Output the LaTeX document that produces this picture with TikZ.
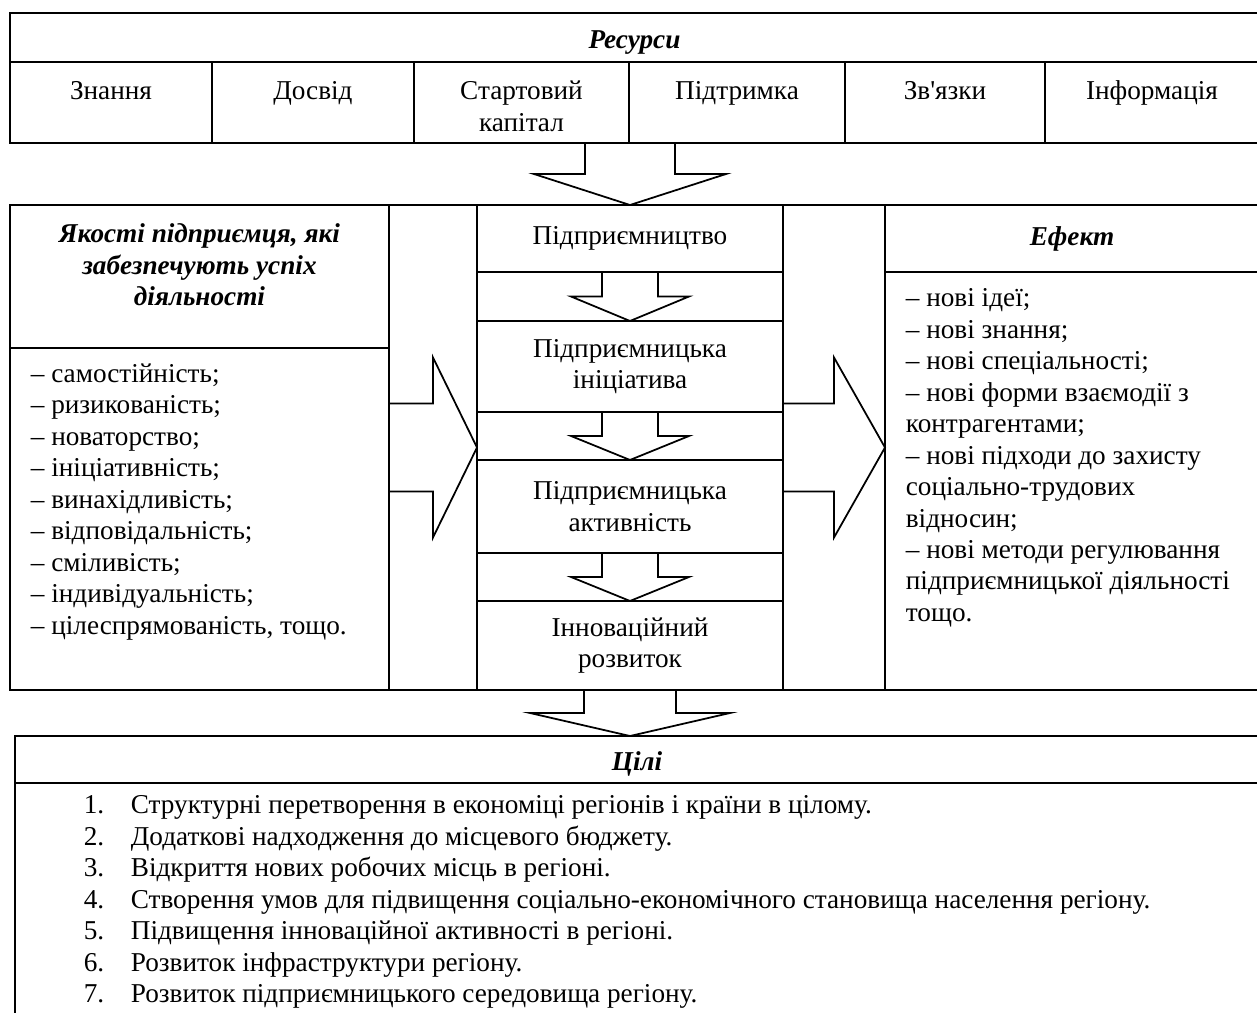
\documentclass[tikz,border=0pt]{standalone}
\usepackage{fontspec}
\setmainfont{Liberation Serif}
\usetikzlibrary{calc,positioning}

\newcommand{\fs}{\fontsize{15.5pt}{17.9pt}\selectfont}
\newcommand{\itm}[1]{\makebox[0.94cm][l]{#1.}}

% block arrow pointing down: from, tip, stem half width, head half width
\newcommand{\blockdown}[4]{%
  \coordinate (bs) at (#1 -| #2);
  \coordinate (bm) at ($(bs)!0.5!(#2)$);
  \draw[blk] ($(bs)+(-#3,0)$) -- ($(bm)+(-#3,0)$) -- ($(bm)+(-#4,0)$) -- (#2)
    -- ($(bm)+(#4,0)$) -- ($(bm)+(#3,0)$) -- ($(bs)+(#3,0)$);}
% block arrow pointing right
\newcommand{\blockright}[4]{%
  \coordinate (bs) at (#1 |- #2);
  \coordinate (bm) at ($(bs)!0.5!(#2)$);
  \draw[blk] ($(bs)+(0,-#3)$) -- ($(bm)+(0,-#3)$) -- ($(bm)+(0,-#4)$) -- (#2)
    -- ($(bm)+(0,#4)$) -- ($(bm)+(0,#3)$) -- ($(bs)+(0,#3)$);}

\begin{document}
\begin{tikzpicture}[x=0.02cm, y=-0.02cm, line width=1pt,
    cell/.style 2 args={draw, minimum width=#1*0.02cm, minimum height=#2*0.02cm,
      anchor=north west, inner sep=0pt, outer sep=0pt, align=center, font=\fs},
    txt/.style={inner sep=0pt, align=center, font=\fs},
    hd/.style={font=\fs\bfseries\itshape},
    low/.style={text height=16pt, text depth=3.5pt},
    blk/.style={draw, line width=1pt}]

    \useasboundingbox (0,0) rectangle (1257,1012);

    % resources
    \node[cell={1249}{49}, hd, low] (res) at (10,13) {Ресурси};
    \node[cell={202}{81}, below right=0pt of res.south west] (znan) {};
    \node[cell={202}{81}, right=0pt of znan] (dosv) {};
    \node[cell={215}{81}, right=0pt of dosv] (kap) {};
    \node[cell={216}{81}, right=0pt of kap] (pidt) {};
    \node[cell={200}{81}, right=0pt of pidt] (zv) {};
    \node[cell={214}{81}, right=0pt of zv] (inf) {};

    \node[txt, below=0.3cm of znan.north] (tznan) {\strut Знання};
    \node[txt, below=0.3cm of dosv.north] (tdosv) {\strut Досвід};
    \node[txt, below=0.3cm of kap.north] (tkap) {\strut Стартовий\\капітал};
    \node[txt, below=0.3cm of pidt.north] (tpidt) {\strut Підтримка};
    \node[txt, below=0.3cm of zv.north] (tzv) {\strut Зв\textquotesingle язки};
    \node[txt, below=0.3cm of inf.north] (tinf) {\strut Інформація};

    % middle band
    \node[cell={379}{143}] (qhead) at (10,205) {};
    \node[cell={379}{342}, below=0pt of qhead] (qlist) {};
    \node[cell={88}{485}, below right=0pt of qhead.north east] (gapL) {};
    \node[cell={306}{485}, below right=0pt of gapL.north east] (midcol) {};
    \node[cell={102}{485}, below right=0pt of midcol.north east] (gapR) {};
    \node[cell={374}{67}, below right=0pt of gapR.north east, hd] (ehead) {Ефект};
    \node[cell={374}{418}, below=0pt of ehead] (elist) {};

    \node[txt, hd, below=0.36cm of qhead.north] (tqual)
        {Якості підприємця, які\\забезпечують успіх\\діяльності};
    \node[txt, align=left, below right=0.3cm and 0.4cm of qlist.north west] (tqlist)
        {– самостійність;\\– ризикованість;\\– новаторство;\\– ініціативність;\\
         – винахідливість;\\– відповідальність;\\– сміливість;\\– індивідуальність;\\
         – цілеспрямованість, тощо.};
    \node[txt, align=left, below right=0.32cm and 0.4cm of elist.north west] (telist)
        {– нові ідеї;\\– нові знання;\\– нові спеціальності;\\– нові форми взаємодії з\\
         контрагентами;\\– нові підходи до захисту\\соціально-трудових\\відносин;\\
         – нові методи регулювання\\підприємницької діяльності\\тощо.};

    % middle column
    \node[cell={306}{67}, below right=0pt of midcol.north west] (pidpr) {Підприємництво};
    \node[cell={306}{91}, below=0.98cm of pidpr] (inic) {Підприємницька\\ініціатива};
    \node[cell={306}{93}, below=0.96cm of inic] (aktyv) {Підприємницька\\активність};
    \node[cell={306}{89}, below=0.96cm of aktyv] (rozv) {Інноваційний\\розвиток};

    % goals
    \node[cell={1244}{47}, hd, low] (goals) at (15,736) {Цілі};
    \node[cell={1244}{240}, below=0pt of goals] (glist) {};
    \node[txt, align=left, below right=0.24cm and 1.36cm of glist.north west] (tglist)
        {\itm{1}Структурні перетворення в економіці регіонів і країни в цілому.\\
         \itm{2}Додаткові надходження до місцевого бюджету.\\
         \itm{3}Відкриття нових робочих місць в регіоні.\\
         \itm{4}Створення умов для підвищення соціально-економічного становища населення регіону.\\
         \itm{5}Підвищення інноваційної активності в регіоні.\\
         \itm{6}Розвиток інфраструктури регіону.\\
         \itm{7}Розвиток підприємницького середовища регіону.};

    % arrows
    \blockdown{kap.south}{pidpr.north}{45}{96}
    \blockdown{pidpr.south}{inic.north}{28}{59}
    \blockdown{inic.south}{aktyv.north}{28}{59}
    \blockdown{aktyv.south}{rozv.north}{28}{59}
    \coordinate (gtip) at (goals.north -| rozv.south);
    \blockdown{rozv.south}{gtip}{46}{100}
    \blockright{gapL.west}{midcol.west}{44}{90}
    \blockright{gapR.west}{gapR.east}{44}{90}

\end{tikzpicture}
\end{document}
